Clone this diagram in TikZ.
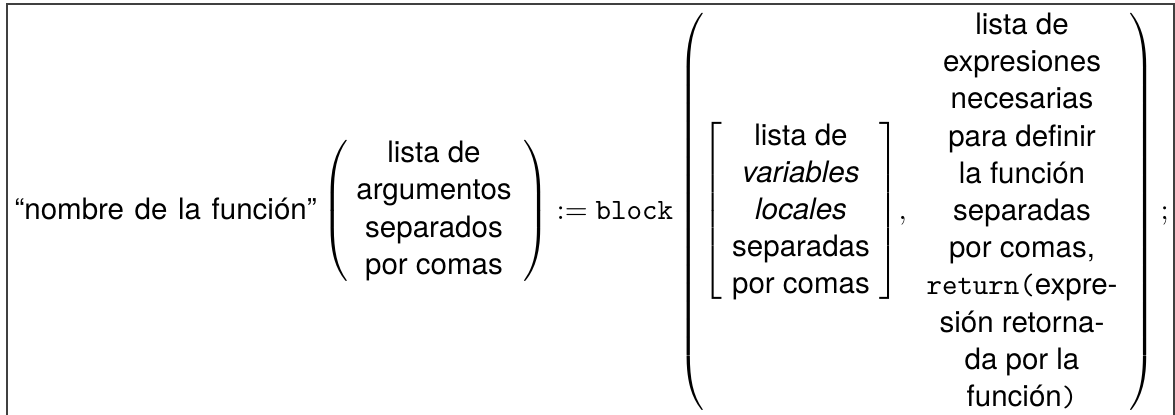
\documentclass[tikz,border=0pt]{standalone}
\usepackage{fontspec}
\usepackage{graphicx}
\setmainfont{TeX Gyre Heros}
\renewcommand\arraystretch{1.025}
\newcommand\mydelim[2]{$\nulldelimiterspace=0pt\left#1\vcenter to #2{\vfil}\right.$}
\begin{document}
\begin{tikzpicture}[x=0.339pt,y=-0.339pt,
  every node/.style={inner sep=0pt,font=\fontsize{10}{12.3}\selectfont},
  txt/.style={anchor=center},
  word/.style={anchor=base west},
  delim/.style={anchor=center},
  framecol/.style={draw=black!75,line width=0.5pt}]
\useasboundingbox (0,0) rectangle (1175,415);
\clip (0,0) rectangle (1175,415);
\draw[framecol] (7,440) |- (1174,4) -- (1174,440);
\node[word] (name) at (14,219.5) {\spaceskip=3.6pt “nombre de la función”};
\node[delim] (p1l) at (335,211) {\mydelim{(}{49.2pt}};
\node[txt] (args) at (434,211) {\begin{tabular}{@{}c@{}}lista de\\argumentos\\separados\\por comas\end{tabular}};
\node[delim] (p1r) at (536,211) {\mydelim{)}{49.2pt}};
\node[word] (def) at (556,219.5) {$:=$};
\node[word] (blk) at (595,219.5) {\texttt{block}};
\node[delim] (p2l) at (691,211.5) {\scalebox{1}[1.02]{\mydelim{(}{135.3pt}}};
\node[delim] (b1l) at (712,211) {\mydelim{[}{61.5pt}};
\node[txt] (vars) at (801,212) {\begin{tabular}{@{}c@{}}lista de\\\textit{variables}\\\textit{locales}\\separadas\\por comas\end{tabular}};
\node[delim] (b1r) at (889,211) {\mydelim{]}{61.5pt}};
\node[word] (comma) at (898,219.5) {$,$};
\node[txt] (body) at (1022,213) {\begin{tabular}{@{}c@{}}lista de\\expresiones\\necesarias\\para definir\\la función\\separadas\\por comas,\\\texttt{return(}expre-\\sión retorna-\\da por la\\función\texttt{)}\end{tabular}};
\node[delim] (p2r) at (1142,211.5) {\scalebox{1}[1.02]{\mydelim{)}{135.3pt}}};
\node[word] (semi) at (1160,219.5) {$;$};
\end{tikzpicture}
\end{document}
